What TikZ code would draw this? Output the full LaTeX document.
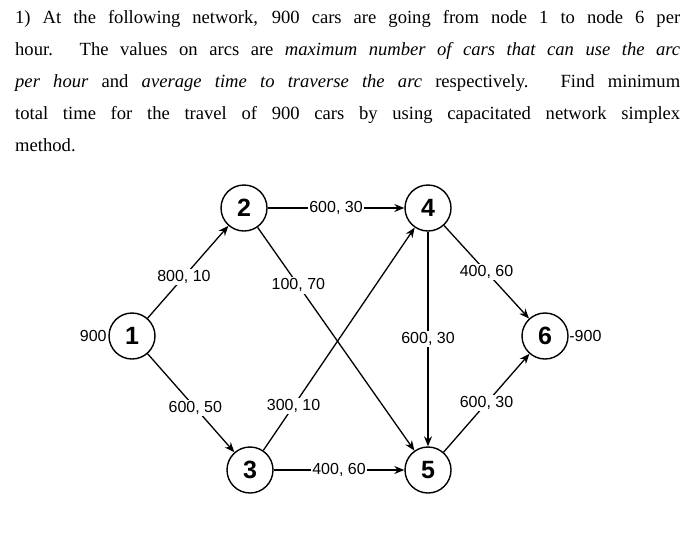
\documentclass[tikz,border=0pt]{standalone}
\usepackage{fontspec}
\setmainfont{Liberation Serif}
\newfontfamily\arialf{Liberation Sans}
\usetikzlibrary{arrows.meta}
\begin{document}
\begin{tikzpicture}[x=1pt,y=-1pt,
  nd/.style={circle,draw,line width=1.4pt,minimum size=46pt,inner sep=0pt,font=\arialf\bfseries\fontsize{25}{27}\selectfont},
  lb/.style={fill=white,inner sep=1.5pt,font=\arialf\fontsize{16}{18}\selectfont},
  ed/.style={line width=1.3pt,-{Stealth[length=10pt,width=8pt]}},
  pl/.style={line width=1.3pt}]
\useasboundingbox (0,0) rectangle (700,544);
\node[anchor=north west,text width=665pt,align=justify,inner sep=0pt,
  font=\fontsize{18.6}{32}\selectfont] (txt) at (15,10)
{\hbadness=10000 1) At the following network, 900 cars are going from node 1 to node 6 per\linebreak hour. The values on arcs are \textit{maximum number of cars that can use the arc\linebreak per hour} and \textit{average time to traverse the arc} respectively. Find minimum\linebreak total time for the travel of 900 cars by using capacitated network simplex\linebreak method.};
\node[nd] (n1) at (132,336) {1};
\node[nd] (n2) at (244,208) {2};
\node[nd] (n3) at (250,470) {3};
\node[nd] (n4) at (428,208) {4};
\node[nd] (n5) at (428,470) {5};
\node[nd] (n6) at (545,336) {6};
\node[lb,fill=none,anchor=east] (s1) at (n1.west) {900};
\node[lb,fill=none,anchor=west,inner sep=0.5pt] (s6) at (n6.east) {-900};
\draw[ed] (n1) -- node[lb,pos=0.45] (l12) {800, 10} (n2);
\draw[ed] (n1) -- node[lb,pos=0.55] (l13) {600, 50} (n3);
\draw[ed] (n2) -- node[lb] (l24) {600, 30} (n4);
\draw[ed] (n2) -- node[lb,pos=0.26] (l25) {100, 70} (n5);
\draw[ed] (n3) -- node[lb,pos=0.2] (l34) {300, 10} (n4);
\draw[ed] (n3) -- node[lb] (l35) {400, 60} (n5);
\draw[ed] (n4) -- node[lb,pos=0.5] (l45) {600, 30} (n5);
\draw[ed] (n4) -- node[lb,pos=0.5] (l46) {400, 60} (n6);
\draw[ed] (n5) -- node[lb,pos=0.5] (l56) {600, 30} (n6);
\end{tikzpicture}
\end{document}
